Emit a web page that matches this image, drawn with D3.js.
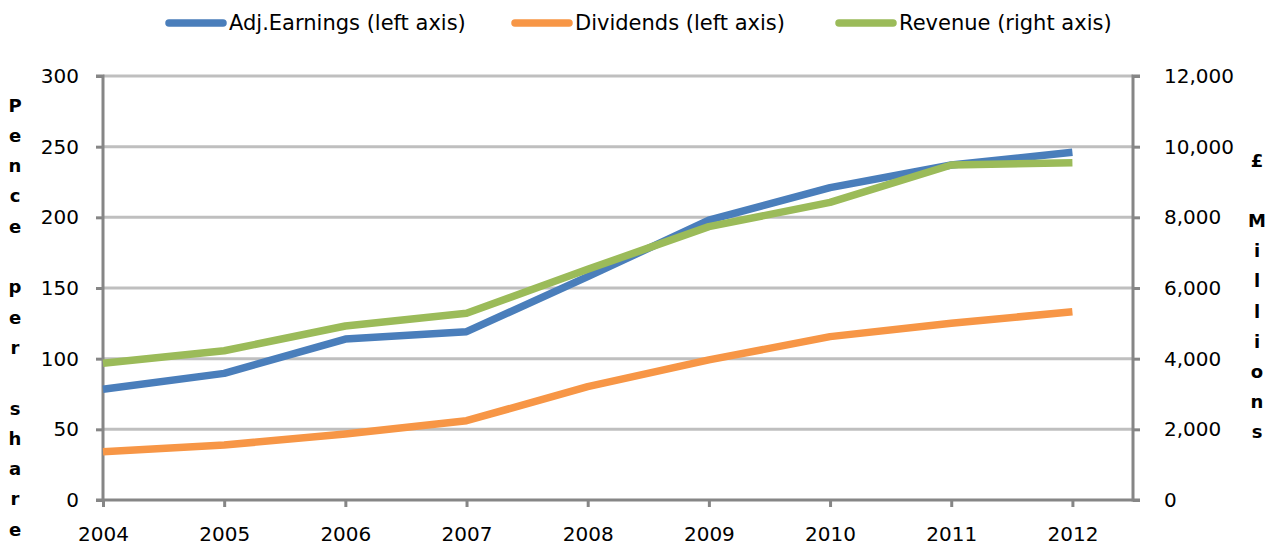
<!DOCTYPE html>
<html>
<head>
<meta charset="utf-8">
<script src="https://cdn.jsdelivr.net/npm/d3@7"></script>
<style>
    body { margin: 0; background: #fff; }
    svg { display: block; font-family: "DejaVu Sans", sans-serif; }
</style>
</head>
<body>
<svg id="chart" width="1276" height="547"></svg>
<script>
var years = [2004, 2005, 2006, 2007, 2008, 2009, 2010, 2011, 2012];
var adjEarnings = [78.3, 89.6, 113.9, 119.1, 158, 198, 221, 237, 246];
var dividends = [34.2, 38.9, 46.7, 56.1, 80.2, 99.1, 115.6, 125, 133.2];
var revenue = [3870, 4225, 4925, 5283, 6528, 7736, 8425, 9481, 9547];
var leftTicks = [0, 50, 100, 150, 200, 250, 300];
var rightTicks = [0, 2000, 4000, 6000, 8000, 10000, 12000];
var leftTitle = 'Pence per share';
var rightTitle = '£ Millions';

(function() {
    'use strict';

    var svg = d3.select('#chart');
    var left = 103, right = 1133, top = 76, bottom = 500;
    var axisColor = '#868686';
    var gridColor = '#bfbfbf';

    // categories sit on ticks, with half a step of room after the last one
    var x = d3.scaleLinear().domain([2004, 2012.5]).range([left, right]);
    var yLeft = d3.scaleLinear().domain([0, 300]).range([bottom, top]);
    var yRight = d3.scaleLinear().domain([0, 12000]).range([bottom, top]);

    var series = [
        { name: 'Adj.Earnings (left axis)', values: adjEarnings, y: yLeft, color: '#4a7ebb' },
        { name: 'Dividends (left axis)', values: dividends, y: yLeft, color: '#f79646' },
        { name: 'Revenue (right axis)', values: revenue, y: yRight, color: '#9bbb59' }
    ];

    // gridlines
    svg.append('g')
        .selectAll('line')
        .data(leftTicks.slice(1))
        .enter().append('line')
        .attr('x1', left).attr('x2', right)
        .attr('y1', function(d) { return yLeft(d); })
        .attr('y2', function(d) { return yLeft(d); })
        .attr('stroke', gridColor)
        .attr('stroke-width', 3);

    var axisLeft = svg.append('g')
        .attr('transform', 'translate(' + left + ',0)')
        .call(d3.axisLeft(yLeft).tickValues(leftTicks).tickSize(7).tickPadding(17));

    var axisRight = svg.append('g')
        .attr('transform', 'translate(' + right + ',0)')
        .call(d3.axisRight(yRight).tickValues(rightTicks).tickSize(7).tickPadding(24)
            .tickFormat(d3.format(',')));

    var axisBottom = svg.append('g')
        .attr('transform', 'translate(0,' + bottom + ')')
        .call(d3.axisBottom(x).tickValues(years).tickSize(7).tickPadding(20)
            .tickFormat(d3.format('d')));

    [axisLeft, axisRight, axisBottom].forEach(function(g) {
        g.select('.domain').attr('stroke', axisColor).attr('stroke-width', 3);
        g.selectAll('.tick line').attr('stroke', axisColor).attr('stroke-width', 3);
        g.selectAll('.tick text')
            .attr('fill', '#000')
            .style('font-size', '20px')
            .style('font-family', '"DejaVu Sans", sans-serif');
    });
    axisBottom.select('.domain').attr('d', 'M' + left + ',0H' + right);
    axisLeft.select('.domain').attr('d', 'M-7,' + top + 'H0V' + bottom + 'H-7');
    axisRight.select('.domain').attr('d', 'M7,' + top + 'H0V' + bottom + 'H7');

    // lines
    series.forEach(function(s) {
        var line = d3.line()
            .x(function(d, i) { return x(years[i]); })
            .y(function(d) { return s.y(d); });

        svg.append('path')
            .datum(s.values)
            .attr('d', line)
            .attr('fill', 'none')
            .attr('stroke', s.color)
            .attr('stroke-width', 7.5)
            .attr('stroke-linejoin', 'round');
    });

    // stacked-letter axis titles
    function stackedTitle(text, cx, y0, step) {
        svg.append('g')
            .selectAll('text')
            .data(text.split(''))
            .enter().append('text')
            .attr('x', cx)
            .attr('y', function(d, i) { return y0 + i * step; })
            .attr('text-anchor', 'middle')
            .attr('dominant-baseline', 'central')
            .style('font-size', '18px')
            .style('font-weight', 'bold')
            .text(function(d) { return d; });
    }
    stackedTitle(leftTitle, 15, 105, 30.3);
    stackedTitle(rightTitle, 1257, 160, 30.2);

    // legend
    var legendX = [169, 515, 839];
    var legend = svg.append('g')
        .selectAll('g')
        .data(series)
        .enter().append('g')
        .attr('transform', function(d, i) { return 'translate(' + legendX[i] + ',23)'; });

    legend.append('line')
        .attr('x1', 0).attr('x2', 54)
        .attr('stroke', function(d) { return d.color; })
        .attr('stroke-width', 7.5)
        .attr('stroke-linecap', 'round');

    legend.append('text')
        .attr('x', 60)
        .attr('dominant-baseline', 'central')
        .style('font-size', '21px')
        .text(function(d) { return d.name; });
}());
</script>
</body>
</html>
